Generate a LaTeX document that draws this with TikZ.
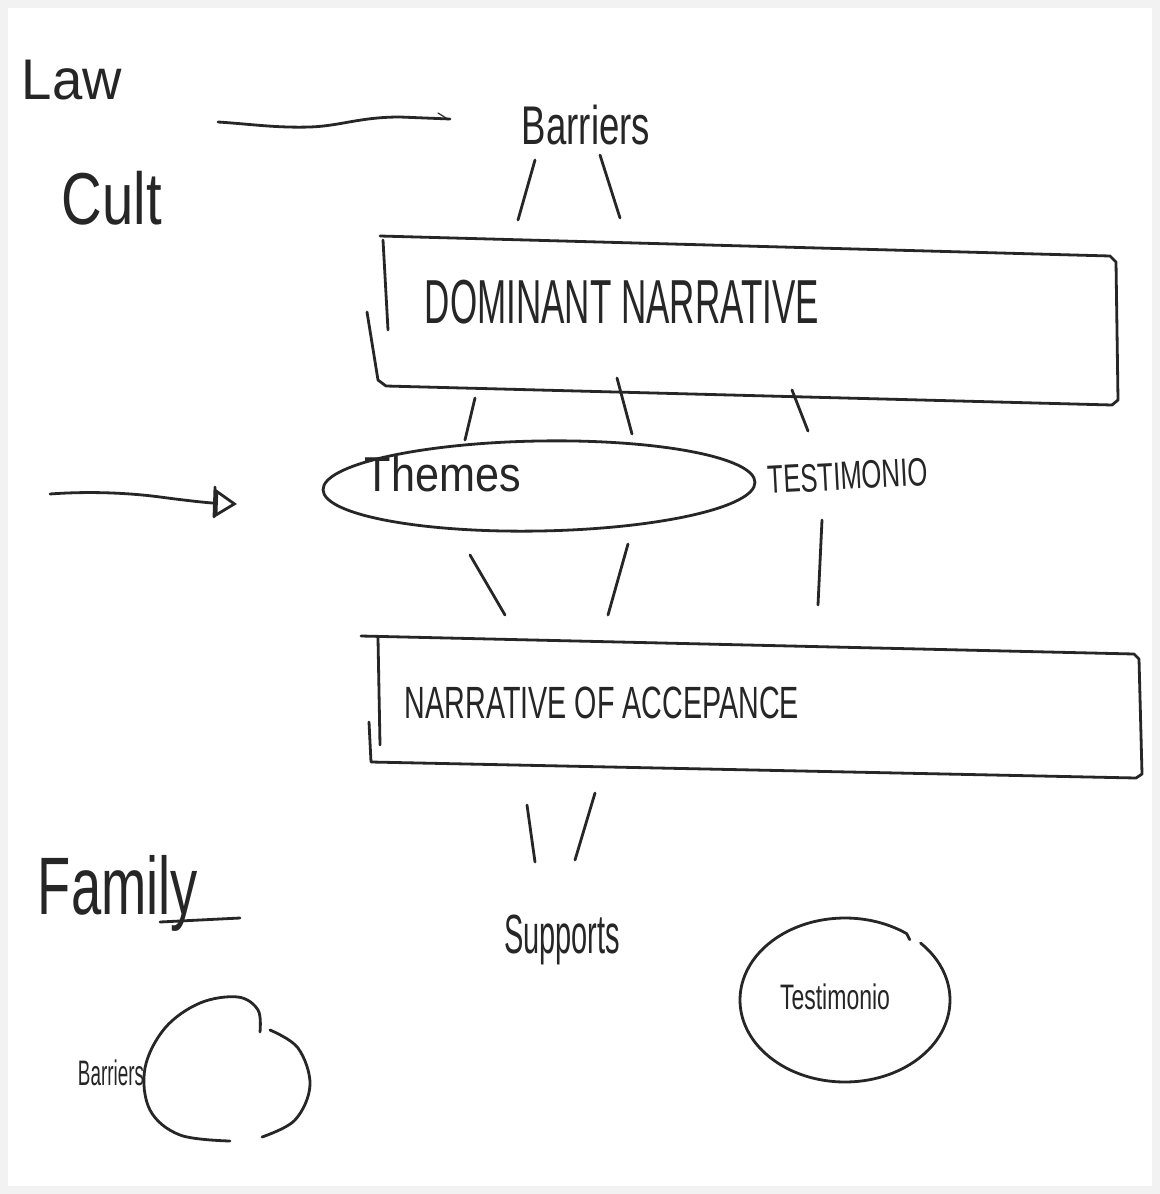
\documentclass[tikz,border=0pt]{standalone}
\usepackage{fontspec}
\usepackage{graphicx}
\setmainfont{Liberation Sans}
\usetikzlibrary{arrows.meta}
% squeeze a word into a given width and height
\newcommand{\hwtext}[3]{\resizebox*{#1}{#2}{#3}}
\begin{document}
\begin{tikzpicture}[x=0.5pt,y=-0.5pt,
  pen/.style={line width=1.4pt, line cap=round, line join=round, black!85},
  lbl/.style={inner sep=0pt, text=black!85}]
\useasboundingbox (0,0) rectangle (1160,1194);
\fill[gray!10] (0,0) rectangle (1160,1194);
\fill[white] (8,8) rectangle (1152,1186);

% labels
\node[lbl] (law) at (72,80) {\hwtext{50pt}{20pt}{Law}};
\node[lbl] (cult) at (112,198) {\hwtext{50pt}{27pt}{Cult}};
\node[lbl] (barriers) at (586,125) {\hwtext{64pt}{20pt}{Barriers}};
\node[lbl] (dominant) at (622,302) {\hwtext{197pt}{22pt}{DOMINANT NARRATIVE}};
\node[lbl] (themes) at (443,474) {\hwtext{78pt}{18pt}{Themes}};
\node[lbl,rotate=3] (testimonio) at (848,476) {\hwtext{80pt}{14pt}{TESTIMONIO}};
\node[lbl] (accept) at (602,703) {\hwtext{197pt}{16pt}{NARRATIVE OF ACCEPANCE}};
\node[lbl] (family) at (118,893) {\hwtext{80pt}{38pt}{Family}};
\node[lbl] (supports) at (562,940) {\hwtext{58pt}{25pt}{Supports}};
\node[lbl] (testi) at (835,997) {\hwtext{55pt}{13pt}{Testimonio}};
\node[lbl] (barr) at (111,1073) {\hwtext{33pt}{13pt}{Barriers}};

% underline of Family
\draw[pen] (160,922) -- (240,918);

% Law line
\draw[pen] (218,122) .. controls (250,124) and (275,128) .. (310,127)
  .. controls (340,126) and (360,117) .. (400,117) -- (450,119);
\draw[pen, line width=0.6pt] (438,113) -- (446,118);

% arrow on the left
\draw[pen, -{Triangle[open,length=11pt,width=14pt,line width=1.4pt]}]
  (50,494) .. controls (90,491) and (130,493) .. (160,497)
  .. controls (190,501) and (210,503) .. (237,504);
\draw[pen] (215,487) -- (214,517);

% Dominant narrative box
\draw[pen] (380,236) -- (1110,256) -- (1116,262) -- (1118,400) -- (1112,405)
  -- (386,386) -- (378,380) -- (367,312);
\draw[pen] (383,240) -- (388,330);

% Themes ellipse
\draw[pen, rotate around={1:(539,486)}] (539,486) ellipse [x radius=216, y radius=45];

% Narrative of acceptance box
\draw[pen] (361,636) -- (1134,654) -- (1139,659) -- (1142,774) -- (1136,778)
  -- (371,762) -- (369,722);
\draw[pen] (378,638) -- (380,745);

% strokes between the levels
\draw[pen] (535,160) -- (518,220);
\draw[pen] (600,155) -- (620,218);
\draw[pen] (475,398) -- (465,440);
\draw[pen] (617,378) -- (632,434);
\draw[pen] (792,390) -- (808,431);
\draw[pen] (470,555) -- (505,615);
\draw[pen] (628,544) -- (608,615);
\draw[pen] (822,520) -- (818,605);
\draw[pen] (527,805) -- (535,862);
\draw[pen] (595,793) -- (575,860);

% Testimonio circle
\draw[pen] ([shift={(-44:105 and 82)}]845,1000) arc[start angle=-44, end angle=306, x radius=105, y radius=82]
  -- ++(3,6);

% Barriers circle
\draw[pen] plot[smooth, tension=0.6] coordinates {(260,1032) (258,1010) (238,997) (200,1003) (165,1028) (145,1068) (150,1110) (180,1135) (230,1141)};
\draw[pen] plot[smooth, tension=0.6] coordinates {(262,1137) (295,1120) (310,1085) (298,1048) (270,1030)};
\end{tikzpicture}
\end{document}
